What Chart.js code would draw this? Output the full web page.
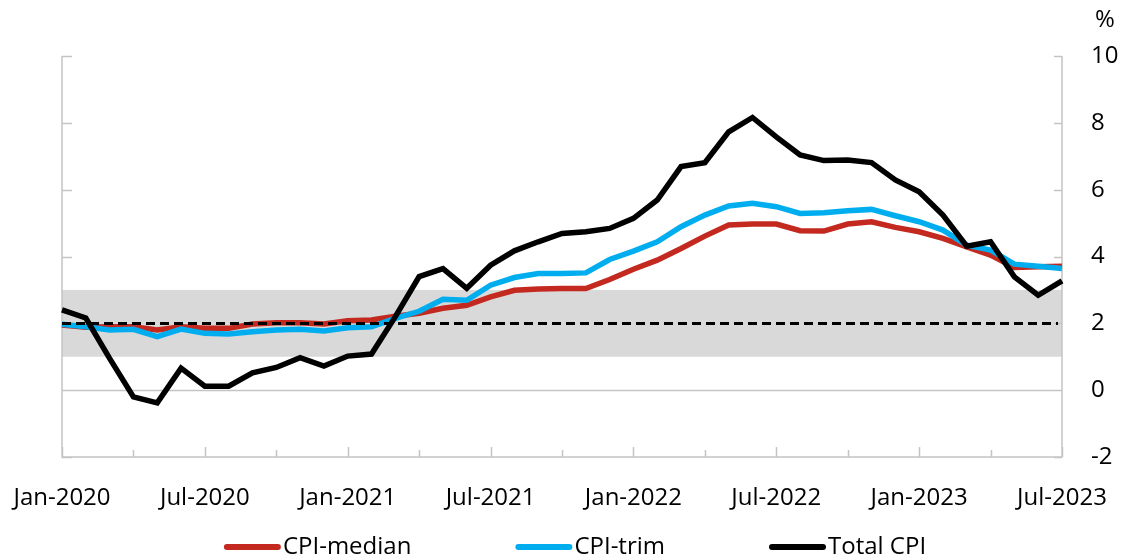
<!DOCTYPE html>
<html>
<head>
<meta charset="utf-8">
<script src="https://cdn.jsdelivr.net/npm/chart.js@4/dist/chart.umd.min.js"></script>
<style>
  html, body { margin: 0; padding: 0; background: #fff; }
  #wrap { width: 1121px; height: 559px; }
</style>
</head>
<body>
<div id="wrap"><canvas id="chart" width="1121" height="559"></canvas></div>
<script>
// Monthly, Jan-2020 .. Jul-2023
const months = [
  'Jan-2020', 'Feb-2020', 'Mar-2020', 'Apr-2020', 'May-2020', 'Jun-2020',
  'Jul-2020', 'Aug-2020', 'Sep-2020', 'Oct-2020', 'Nov-2020', 'Dec-2020',
  'Jan-2021', 'Feb-2021', 'Mar-2021', 'Apr-2021', 'May-2021', 'Jun-2021',
  'Jul-2021', 'Aug-2021', 'Sep-2021', 'Oct-2021', 'Nov-2021', 'Dec-2021',
  'Jan-2022', 'Feb-2022', 'Mar-2022', 'Apr-2022', 'May-2022', 'Jun-2022',
  'Jul-2022', 'Aug-2022', 'Sep-2022', 'Oct-2022', 'Nov-2022', 'Dec-2022',
  'Jan-2023', 'Feb-2023', 'Mar-2023', 'Apr-2023', 'May-2023', 'Jun-2023',
  'Jul-2023',
];

const cpiMedian = [
  1.95, 1.88, 1.90, 1.90, 1.80, 1.90, 1.85, 1.85, 1.98, 2.02, 2.02, 1.98,
  2.08, 2.10, 2.21, 2.30, 2.45, 2.54, 2.79, 2.99, 3.03, 3.04, 3.04, 3.31,
  3.62, 3.89, 4.24, 4.61, 4.94, 4.97, 4.97, 4.77, 4.76, 4.97, 5.04, 4.87,
  4.74, 4.54, 4.29, 4.04, 3.67, 3.69, 3.71,
];

const cpiTrim = [
  1.97, 1.90, 1.80, 1.82, 1.60, 1.83, 1.70, 1.68, 1.75, 1.80, 1.82, 1.77,
  1.87, 1.90, 2.15, 2.36, 2.72, 2.69, 3.14, 3.37, 3.49, 3.49, 3.51, 3.91,
  4.16, 4.44, 4.89, 5.24, 5.51, 5.59, 5.49, 5.29, 5.31, 5.37, 5.41, 5.22,
  5.04, 4.79, 4.34, 4.19, 3.77, 3.71, 3.64,
];

const totalCpi = [
  2.40, 2.16, 0.95, -0.20, -0.38, 0.66, 0.12, 0.12, 0.52, 0.68, 0.97, 0.72,
  1.02, 1.08, 2.20, 3.40, 3.64, 3.05, 3.74, 4.17, 4.44, 4.69, 4.74, 4.84,
  5.14, 5.69, 6.69, 6.81, 7.73, 8.16, 7.58, 7.04, 6.87, 6.89, 6.81, 6.29,
  5.94, 5.24, 4.31, 4.44, 3.39, 2.84, 3.27,
];

const yRange = [-2, 10];
const yStep = 2;
const targetBand = [1, 3];
const targetMid = 2;

const FONT = '"Open Sans", "Noto Sans", sans-serif';
const FONT_SIZE = 24;
const AXIS_GREY = '#c4c4c4';

// band, target line, frame with inward ticks, legend, unit label
const decorations = {
  id: 'decorations',
  beforeDatasetsDraw(chart) {
    const { ctx, chartArea: a, scales: { x, y } } = chart;
    ctx.save();
    // target band
    ctx.fillStyle = '#d9d9d9';
    const bTop = y.getPixelForValue(targetBand[1]);
    const bBot = y.getPixelForValue(targetBand[0]);
    ctx.fillRect(a.left, bTop, a.right - a.left, bBot - bTop);

    ctx.strokeStyle = AXIS_GREY;
    ctx.lineWidth = 1.5;
    // zero line
    const y0 = Math.round(y.getPixelForValue(0)) + 0.5;
    ctx.beginPath();
    ctx.moveTo(a.left, y0);
    ctx.lineTo(a.right, y0);
    // frame: left, bottom, right
    ctx.moveTo(a.left, a.top);
    ctx.lineTo(a.left, a.bottom);
    ctx.lineTo(a.right, a.bottom);
    ctx.lineTo(a.right, a.top);
    // inward ticks on both sides
    y.ticks.forEach((t) => {
      const py = Math.round(y.getPixelForValue(t.value)) + 0.5;
      ctx.moveTo(a.left, py);
      ctx.lineTo(a.left + 10, py);
      ctx.moveTo(a.right, py);
      ctx.lineTo(a.right - 8, py);
    });
    // x ticks every quarter, longer at labels
    months.forEach((m, i) => {
      if (i % 3 !== 0) return;
      const px = Math.round(x.getPixelForValue(i)) + 0.5;
      ctx.moveTo(px, a.bottom);
      ctx.lineTo(px, a.bottom - (i % 6 === 0 ? 10 : 7));
    });
    ctx.stroke();
    ctx.restore();
  },
  afterDatasetsDraw(chart) {
    const { ctx, chartArea: a, scales: { y } } = chart;
    ctx.save();
    ctx.strokeStyle = '#000';
    ctx.lineWidth = 3;
    ctx.setLineDash([9, 5]);
    const py = Math.round(y.getPixelForValue(targetMid)) + 0.5;
    ctx.beginPath();
    ctx.moveTo(a.left, py);
    ctx.lineTo(a.right - 4, py);
    ctx.stroke();
    ctx.restore();
  },
  afterDraw(chart) {
    const { ctx, chartArea: a } = chart;
    ctx.save();
    ctx.font = FONT_SIZE + 'px ' + FONT;
    ctx.fillStyle = '#000';
    ctx.textBaseline = 'middle';
    // unit above the axis
    ctx.textAlign = 'left';
    ctx.fillText('%', a.right + 33, a.top - 36);

    // legend
    const lineLen = 57;
    const gap = 104;
    const items = chart.data.datasets.map((ds) => ({
      text: ds.label,
      color: ds.borderColor,
      w: lineLen + 2 + ctx.measureText(ds.label).width,
    }));
    const total = items.reduce((s, it) => s + it.w, 0) + gap * (items.length - 1);
    let cx = 575 - total / 2;
    const ly = 547;
    items.forEach((it) => {
      ctx.strokeStyle = it.color;
      ctx.lineWidth = 6;
      ctx.lineCap = 'round';
      ctx.beginPath();
      ctx.moveTo(cx + 3, ly);
      ctx.lineTo(cx + lineLen - 3, ly);
      ctx.stroke();
      ctx.fillText(it.text, cx + lineLen + 2, ly);
      cx += it.w + gap;
    });
    ctx.restore();
  },
};

const lineStyle = {
  borderWidth: 5.5,
  pointRadius: 0,
  pointHoverRadius: 0,
  tension: 0,
  fill: false,
};

new Chart(document.getElementById('chart'), {
  type: 'line',
  data: {
    labels: months,
    datasets: [
      { label: 'CPI-median', data: cpiMedian, borderColor: '#c3291f', order: 3, ...lineStyle },
      { label: 'CPI-trim', data: cpiTrim, borderColor: '#00aeef', order: 2, ...lineStyle },
      { label: 'Total CPI', data: totalCpi, borderColor: '#000000', order: 1, ...lineStyle },
    ],
  },
  options: {
    responsive: false,
    animation: false,
    layout: {
      padding: { left: 62, top: 56, right: 0, bottom: 42 },
    },
    plugins: {
      legend: { display: false },
      tooltip: { enabled: false },
    },
    scales: {
      x: {
        type: 'category',
        offset: false,
        grid: { display: false },
        border: { display: false },
        ticks: {
          autoSkip: false,
          maxRotation: 0,
          minRotation: 0,
          padding: 19,
          color: '#000',
          font: { family: FONT, size: FONT_SIZE },
          callback: (value, index) => (index % 6 === 0 ? months[index] : ''),
        },
        afterFit: (scale) => {
          scale.height = 60;
          scale.paddingLeft = 0;
          scale.paddingRight = 0;
        },
      },
      y: {
        position: 'right',
        min: yRange[0],
        max: yRange[1],
        grid: { display: false, drawTicks: false },
        border: { display: false },
        ticks: {
          stepSize: yStep,
          padding: 29,
          color: '#000',
          font: { family: FONT, size: FONT_SIZE },
        },
        afterFit: (scale) => { scale.width = 59; },
      },
    },
  },
  plugins: [decorations],
});
</script>
</body>
</html>
